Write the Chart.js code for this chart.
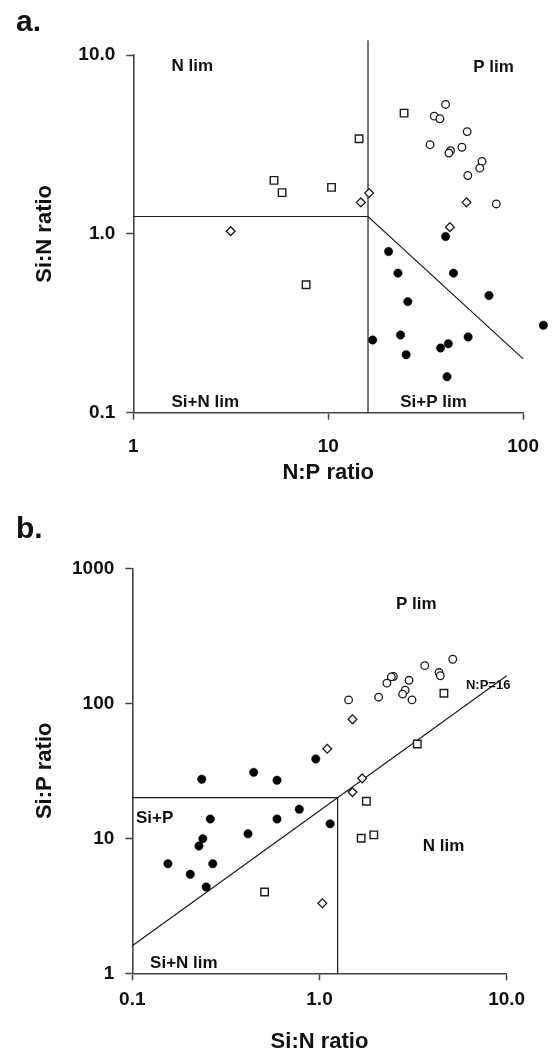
<!DOCTYPE html>
<html><head><meta charset="utf-8">
<script src="https://cdn.jsdelivr.net/npm/chart.js@4.4.1/dist/chart.umd.min.js"></script>
<style>
html,body{margin:0;padding:0;background:#fff;}
body{width:555px;height:1055px;position:relative;overflow:hidden;font-family:'Liberation Sans',Arial,sans-serif;}
.panel{position:absolute;left:0;width:555px;}
.tag{position:absolute;left:16px;font-weight:bold;font-size:30px;color:#111;line-height:30px;z-index:2;}
</style></head>
<body>
<div class="panel" style="top:0;height:490px"><canvas id="ca"></canvas></div>
<div class="panel" style="top:490px;height:565px"><canvas id="cb"></canvas></div>
<div class="tag" style="top:6px">a.</div>
<div class="tag" style="top:513px">b.</div>
<script>
// ---------- Panel a: Si:N ratio vs N:P ratio ----------
const aFilledNP  = [40.0, 20.4, 22.8, 43.9, 25.6, 66.8, 127, 16.9, 23.5, 52.2, 37.7, 41.3, 25.1, 40.7];
const aFilledSiN = [0.966, 0.796, 0.603, 0.603, 0.418, 0.452, 0.308, 0.255, 0.272, 0.265, 0.230, 0.243, 0.211, 0.159];
const aOpenNP    = [40.0, 35.0, 37.4, 51.6, 33.3, 48.5, 42.4, 41.6, 61.5, 59.9, 52.0, 72.8];
const aOpenSiN   = [5.29, 4.55, 4.40, 3.73, 3.15, 3.05, 2.92, 2.83, 2.54, 2.33, 2.12, 1.47];
const aSquareNP  = [24.5, 14.4, 5.27, 5.80, 10.4, 7.70];
const aSquareSiN = [4.73, 3.40, 1.99, 1.70, 1.82, 0.519];
const aDiamondNP = [3.16, 14.7, 16.2, 51.2, 42.1];
const aDiamondSiN= [1.035, 1.50, 1.69, 1.50, 1.09];
const aVertX = [16, 16];        const aVertY = [0.1, 12.1];
const aLimX  = [1, 16, 100];    const aLimY  = [1.25, 1.25, 0.2];
const aXTicks = [1, 10, 100];
const aYTicks = [0.1, 1, 10];
const aLabelText = ['N lim', 'P lim', 'Si+N lim', 'Si+P lim'];
const aLabelX    = [1.57, 55.4, 1.57, 23.4];
const aLabelY    = [8.62, 8.57, 0.114, 0.114];

// ---------- Panel b: Si:P ratio vs Si:N ratio ----------
const bFilledSiN = [0.955, 0.445, 0.235, 0.593, 0.780, 0.261, 0.593, 1.14, 0.415, 0.238, 0.227, 0.155, 0.269, 0.204, 0.248];
const bFilledSiP = [38.7, 30.8, 27.4, 26.9, 16.4, 13.9, 13.9, 12.8, 10.8, 9.93, 8.77, 6.48, 6.48, 5.41, 4.36];
const bOpenSiN   = [5.15, 3.65, 4.35, 4.42, 2.48, 2.42, 3.01, 2.29, 2.87, 2.78, 3.12, 2.07, 1.43];
const bOpenSiP   = [212, 190, 169, 160, 158, 157, 148, 141, 125, 117, 106, 111, 106];
const bSquareSiN = [4.62, 3.33, 1.78, 1.67, 1.95, 0.509];
const bSquareSiP = [118.6, 50.0, 18.8, 10.0, 10.6, 4.0];
const bDiamondSiN= [1.10, 1.50, 1.69, 1.50, 1.035];
const bDiamondSiP= [46.1, 76.1, 27.8, 22.0, 3.30];
const bLimX = [0.1, 1.25, 1.25];  const bLimY = [20, 20, 1];
const bNP16X = [0.1, 10];         const bNP16Y = [1.6, 160];
const bXTicks = [0.1, 1, 10];
const bYTicks = [1, 10, 100, 1000];
const bLabelText = ['P lim', 'N lim', 'Si+P', 'Si+N lim', 'N:P=16'];
const bLabelX    = [2.56, 3.56, 0.1047, 0.1245, 6.06];
const bLabelY    = [544, 8.67, 14.0, 1.186, 135];
const bLabelSize = [17, 17, 17, 17, 13];

const FONT = "'Liberation Sans', Arial, sans-serif";
const INK = '#1a1a1a';
const AXIS = '#444';

function pts(xs, ys) { return xs.map((x, i) => ({x: x, y: ys[i]})); }

function markerSets(fx, fy, ox, oy, sx, sy, dx, dy) {
  return [
    {data: pts(fx, fy), pointStyle: 'circle', pointRadius: 4.2, backgroundColor: '#000', borderColor: '#000', borderWidth: 0.5, clip: false, order: 1},
    {data: pts(ox, oy), pointStyle: 'circle', pointRadius: 3.8, backgroundColor: '#fff', borderColor: INK, borderWidth: 1.3, clip: false, order: 1},
    {data: pts(sx, sy), pointStyle: 'rect', pointRadius: 5.3, backgroundColor: '#fff', borderColor: INK, borderWidth: 1.4, clip: false, order: 1},
    {data: pts(dx, dy), pointStyle: 'rectRot', pointRadius: 4.4, backgroundColor: '#fff', borderColor: INK, borderWidth: 1.3, clip: false, order: 1}
  ];
}
function lineSet(xs, ys) {
  return {type: 'line', data: pts(xs, ys), showLine: true, pointRadius: 0, borderColor: INK, borderWidth: 1.2, fill: false, clip: false, order: 5, tension: 0};
}

// draws library point elements that fall outside the chart area (e.g. N:P beyond axis end)
const outsidePoints = {
  id: 'outsidePoints',
  afterDatasetsDraw(chart) {
    const a = chart.chartArea; const big = {left: -1e5, right: 1e5, top: -1e5, bottom: 1e5};
    chart.getSortedVisibleDatasetMetas().forEach(meta => {
      if (meta.type === 'line') return;
      meta.data.forEach(el => {
        if (el.x > a.right + 0.5 || el.x < a.left - 0.5 || el.y < a.top - 0.5 || el.y > a.bottom + 0.5) {
          el.draw(chart.ctx, big);
        }
      });
    });
  }
};

const textPlugin = {
  id: 'regionText',
  afterDatasetsDraw(chart, args, opts) {
    const {ctx} = chart; const sx = chart.scales.x, sy = chart.scales.y;
    ctx.save();
    ctx.fillStyle = '#111'; ctx.textAlign = 'left'; ctx.textBaseline = 'middle';
    opts.text.forEach((t, i) => {
      ctx.font = 'bold ' + opts.size[i] + 'px ' + FONT;
      ctx.fillText(t, sx.getPixelForValue(opts.x[i]), sy.getPixelForValue(opts.y[i]));
    });
    ctx.restore();
  }
};

function axisOpts(min, max, ticks, fmt, title, extra) {
  return Object.assign({
    type: 'logarithmic', min: min, max: max,
    afterBuildTicks: s => { s.ticks = ticks.map(v => ({value: v})); },
    ticks: {callback: v => fmt(v), color: '#111', font: {family: FONT, size: 19, weight: 'bold'}, autoSkip: false, maxRotation: 0, minRotation: 0},
    grid: {display: true, drawOnChartArea: false, drawTicks: true, tickLength: 7, tickWidth: 1.5, tickColor: AXIS},
    border: {display: true, color: AXIS, width: 1.6},
    title: {display: true, text: title, color: '#111', font: {family: FONT, size: 22, weight: 'bold'}}
  }, extra);
}

function makeChart(id, datasets, xAx, yAx, pad, labels) {
  return new Chart(document.getElementById(id), {
    type: 'scatter',
    data: {datasets: datasets},
    options: {
      responsive: true, maintainAspectRatio: false, animation: false, events: [],
      layout: {padding: pad},
      plugins: {legend: {display: false}, tooltip: {enabled: false}, regionText: labels},
      scales: {x: xAx, y: yAx}
    },
    plugins: [outsidePoints, textPlugin]
  });
}

// Panel a
const axA = axisOpts(1, 100, aXTicks, v => String(Math.round(v)), 'N:P ratio', {position: 'bottom', afterFit: s => { s.height = 77.3; }});
axA.ticks.padding = 16; axA.title.padding = {top: 0, bottom: 4};
const ayA = axisOpts(0.1, 10, aYTicks, v => Number(v).toFixed(1), 'Si:N ratio', {position: 'left', afterFit: s => { s.width = 133.3; }});
ayA.ticks.padding = 11; ayA.title.padding = {top: 32, bottom: 0};
makeChart('ca',
  markerSets(aFilledNP, aFilledSiN, aOpenNP, aOpenSiN, aSquareNP, aSquareSiN, aDiamondNP, aDiamondSiN)
    .concat([lineSet(aVertX, aVertY), lineSet(aLimX, aLimY)]),
  axA, ayA, {left: 0, top: 55, right: 29.7, bottom: 0},
  {text: aLabelText, x: aLabelX, y: aLabelY, size: aLabelText.map(() => 17)});

// Panel b
const axB = axisOpts(0.1, 10, bXTicks, v => Number(v).toFixed(1), 'Si:N ratio', {position: 'bottom', afterFit: s => { s.height = 81.7; }});
axB.ticks.padding = 8; axB.title.padding = {top: 0, bottom: 0};
const ayB = axisOpts(1, 1000, bYTicks, v => String(Math.round(v)), 'Si:P ratio', {position: 'left', afterFit: s => { s.width = 132.3; }});
ayB.ticks.padding = 11; ayB.title.padding = {top: 32, bottom: 0};
makeChart('cb',
  markerSets(bFilledSiN, bFilledSiP, bOpenSiN, bOpenSiP, bSquareSiN, bSquareSiP, bDiamondSiN, bDiamondSiP)
    .concat([lineSet(bLimX, bLimY), lineSet(bNP16X, bNP16Y)]),
  axB, ayB, {left: 0, top: 78.3, right: 48.3, bottom: 0},
  {text: bLabelText, x: bLabelX, y: bLabelY, size: bLabelSize});
</script>
</body></html>
